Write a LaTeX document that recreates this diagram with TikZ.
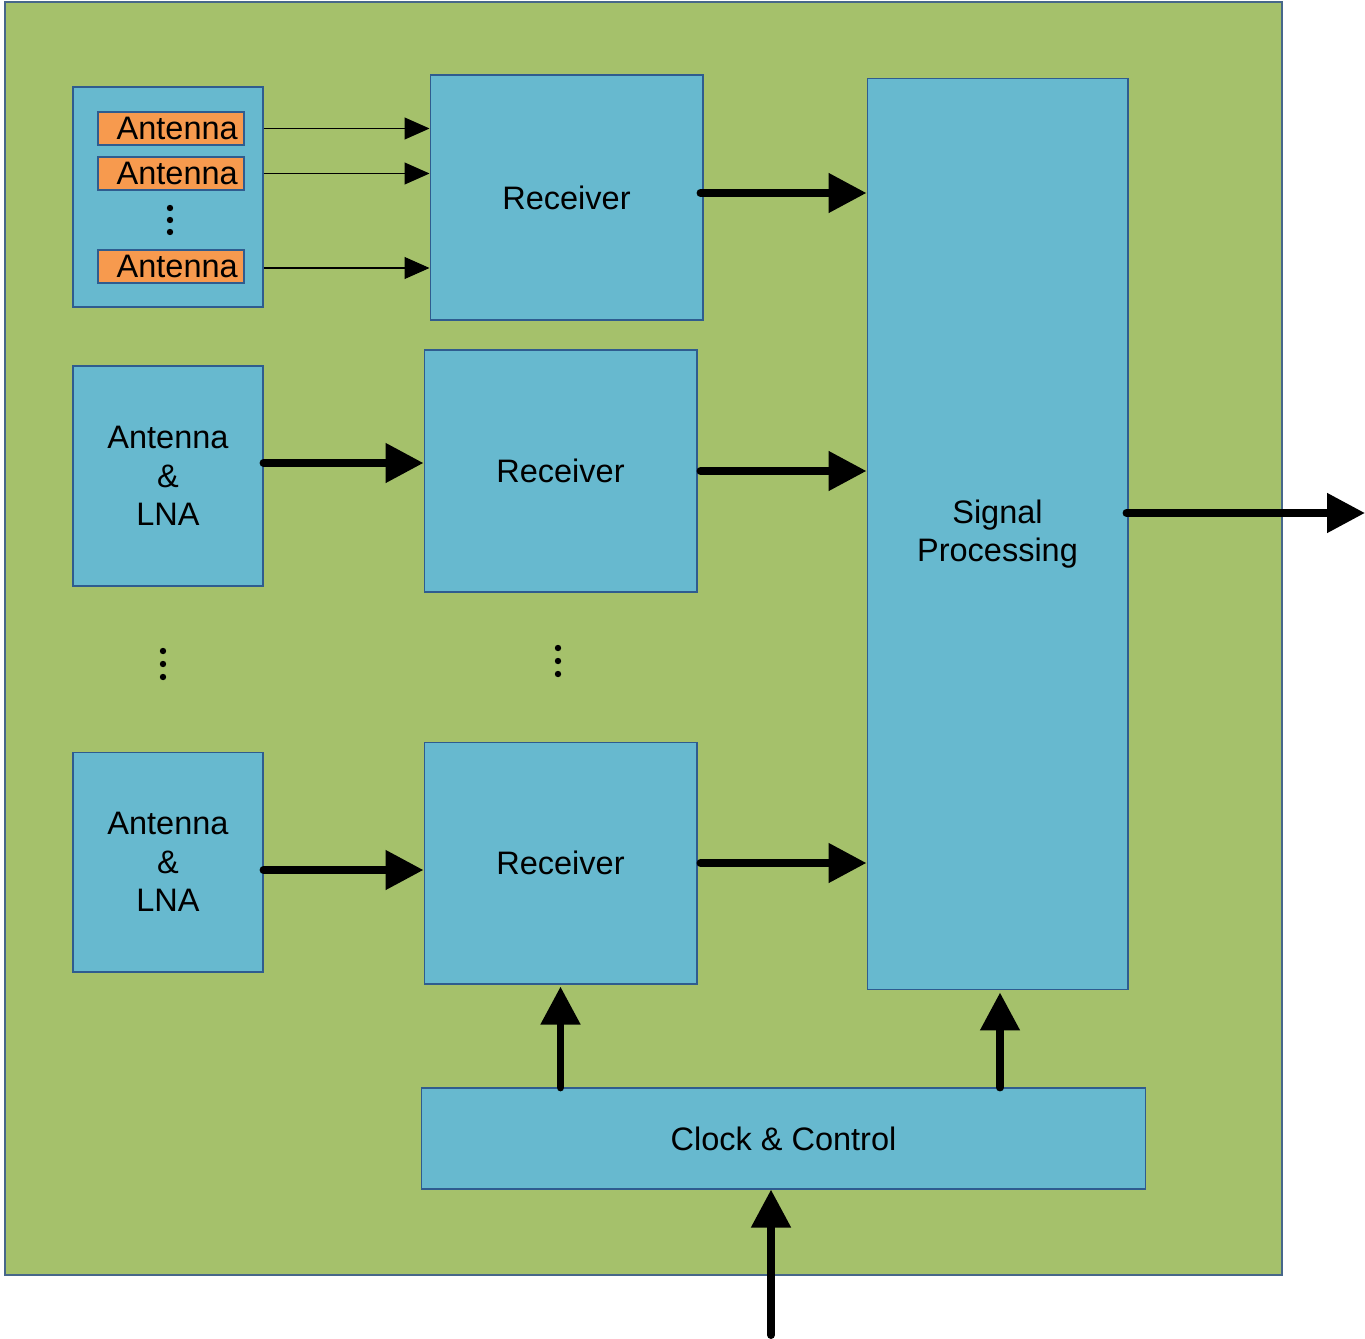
\documentclass[tikz,border=0pt]{standalone}
\usepackage{fontspec}
\setmainfont{Liberation Sans}
\usetikzlibrary{arrows.meta}

\definecolor{boardgreen}{HTML}{A5C16B}
\definecolor{blockblue}{HTML}{67B9CF}
\definecolor{antorange}{HTML}{F79A4E}
\definecolor{edgeblue}{HTML}{2F5C8F}

\tikzset{
  block/.style={draw=edgeblue, line width=0.6pt, fill=blockblue, inner sep=0pt,
    align=center, font=\fontsize{18.5}{22}\selectfont},
  antbox/.style={draw=edgeblue, line width=0.6pt, fill=antorange, inner sep=0pt,
    minimum width=2.92cm, minimum height=0.66cm, font=\fontsize{18.5}{22}\selectfont},
  thinarrow/.style={-{Triangle[length=0.5cm,width=0.44cm]}, line width=0.6pt},
  thickarrow/.style={-{Triangle[length=0.76cm,width=0.76cm]}, line width=4.5pt, line cap=round},
}

\begin{document}
\begin{tikzpicture}[x=0.02cm, y=-0.02cm]

  \useasboundingbox (0,0) rectangle (1365,1338);

  % Board
  \draw[draw=edgeblue!70!gray, line width=0.8pt, fill=boardgreen] (5,2) rectangle (1282,1275);

  % Antenna array
  \node[block, minimum width=3.8cm, minimum height=4.4cm] (grp) at (168,197) {};
  \node[antbox] (ant1) at (171,128.5) {\hspace{0.25cm}Antenna};
  \node[antbox] (ant2) at (171,173.5) {\hspace{0.25cm}Antenna};
  \node[antbox] (ant3) at (171,266.5) {\hspace{0.25cm}Antenna};
  \foreach \y in {208,220,232} \fill (170,\y) circle (3.2);

  % Antenna & LNA blocks
  \node[block, minimum width=3.8cm, minimum height=4.4cm] (lna1) at (168,476) {Antenna\\\&\\LNA};
  \node[block, minimum width=3.8cm, minimum height=4.4cm] (lna2) at (168,862) {Antenna\\\&\\LNA};
  \foreach \y in {651,664,677} \fill (163,\y) circle (3.2);

  % Receivers
  \node[block, minimum width=5.46cm, minimum height=4.9cm] (rx1) at (566.5,197.5) {Receiver};
  \node[block, minimum width=5.46cm, minimum height=4.84cm] (rx2) at (560.5,471) {Receiver};
  \node[block, minimum width=5.46cm, minimum height=4.84cm] (rx3) at (560.5,863) {Receiver};
  \foreach \y in {648,661,674} \fill (558,\y) circle (3.2);

  % Signal processing
  \node[block, minimum width=5.22cm, minimum height=18.24cm] (sp) at (997.5,534) {Signal\\Processing};

  % Clock & control
  \node[block, minimum width=14.5cm, minimum height=2.02cm] (clk) at (783.5,1138.5) {Clock \& Control};

  % Free ends
  \coordinate (out) at (1365,513);
  \coordinate (in) at (771,1335);

  % Connections
  \draw[thinarrow] (ant1.east -| grp.east) -- (ant1.east -| rx1.west);
  \draw[thinarrow] (ant2.east -| grp.east) -- (ant2.east -| rx1.west);
  \draw[thinarrow] ([yshift=-0.03cm]ant3.east -| grp.east) -- ([yshift=-0.03cm]ant3.east -| rx1.west);
  \draw[thickarrow] ([xshift=-0.06cm,yshift=0.09cm]rx1.east) -- ([yshift=0.09cm]rx1.east -| sp.west);
  \draw[thickarrow] ([yshift=0.26cm]lna1.east) -- ([yshift=0.26cm]lna1.east -| rx2.west);
  \draw[thickarrow] ([xshift=0.06cm]rx2.east) -- (rx2.east -| sp.west);
  \draw[thickarrow] ([yshift=-0.16cm]lna2.east) -- ([yshift=-0.16cm]lna2.east -| rx3.west);
  \draw[thickarrow] ([xshift=0.06cm]rx3.east) -- (rx3.east -| sp.west);
  \draw[thickarrow] ([xshift=-0.04cm]sp.east |- out) -- (out);
  \draw[thickarrow] (clk.north -| rx3.south) -- ([yshift=-0.04cm]rx3.south);
  \draw[thickarrow] ([xshift=0.05cm]clk.north -| sp.south) -- ([xshift=0.05cm,yshift=-0.04cm]sp.south);
  \draw[thickarrow] (in) -- (clk.south -| in);

\end{tikzpicture}
\end{document}
